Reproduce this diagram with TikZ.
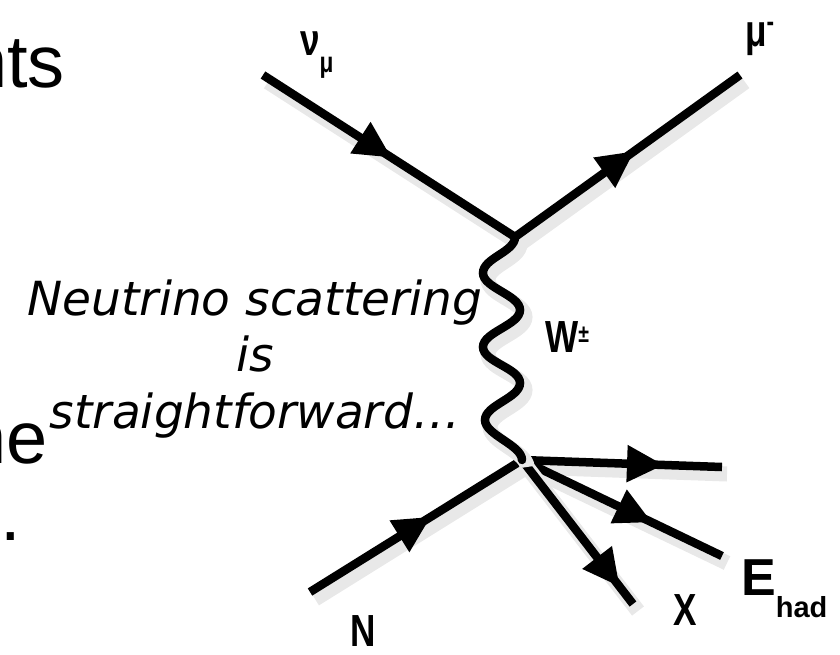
\documentclass[tikz,border=0pt]{standalone}
\usepackage{fontspec}
\setmainfont{DejaVu Sans}
\newfontfamily\slidefont{Liberation Sans}
\newfontfamily\lblfont[FakeStretch=0.78]{Liberation Sans}
\usepackage{tikz}
\usetikzlibrary{arrows.meta,decorations.markings}

\tikzset{
  shadowed/.style={preaction={draw=black!9,line width=15pt,transform canvas={shift={(5pt,-7pt)}}}},
  fermion/.style={line width=8.5pt,shadowed,
    postaction={decorate,decoration={markings,
      mark=at position #1 with {\arrow{Triangle[length=37pt,width=35pt]}}}}},
  fermion/.default=0.5,
  boson/.style={line width=8.5pt,line cap=round,shadowed},
  lbl/.style={font=\lblfont\bfseries\fontsize{45}{45}\selectfont,inner sep=0pt,anchor=base west},
  slide/.style={font=\slidefont\fontsize{74}{74}\selectfont,inner sep=0pt},
  note/.style={font=\itshape\fontsize{47}{56.5}\selectfont,inner sep=0pt,align=center}
}

\begin{document}
\begin{tikzpicture}[x=1pt,y=-1pt]
\useasboundingbox (0,0) rectangle (840,654);
% slide text cut off on the left
\node[slide,anchor=base east] (nts) at (65,87) {nts};
\node[slide,anchor=base east] (he) at (48,463) {he};
\node[slide,anchor=base west] (dot) at (0,540) {.};
% vertices and free ends
\coordinate (vt) at (515,237);
\coordinate (vb) at (522,460);
\coordinate (nuin) at (263,75);
\coordinate (muout) at (740,75);
\coordinate (nin) at (310,592);
\coordinate (had1) at (722,467);
\coordinate (had2) at (722,556);
\coordinate (had3) at (633,604);
% lines
\draw[fermion=0.51] (nuin) -- (vt);
\draw[fermion=0.53] (vt) -- (muout);
\draw[fermion=0.57] (nin) -- (vb);
\draw[fermion=0.71] (vb) -- (had1);
\draw[fermion=0.65] (vb) -- (had2);
\draw[fermion=0.88] (vb) -- (had3);
\draw[boson] (vt) .. controls +(0,15) and +(0,-15) .. ++(-32,36)
  .. controls +(0,15) and +(0,-15) .. ++(37,37)
  .. controls +(0,15) and +(0,-15) .. ++(-37,37)
  .. controls +(0,15) and +(0,-15) .. ++(37,36)
  .. controls +(0,15) and +(0,-15) .. ++(-35,37)
  .. controls +(0,15) and +(0,-15) .. (vb);
% labels
\node[lbl] (nulbl) at (300,55) {ν\raisebox{-17pt}{\fontsize{29}{29}\selectfont μ}};
\node[lbl] (mulbl) at (745,46) {μ\raisebox{15pt}{\fontsize{29}{29}\selectfont -}};
\node[lbl] (wlbl) at (545,352) {W\raisebox{10pt}{\fontsize{25}{25}\selectfont ±}};
\node[lbl] (xlbl) at (673,625) {X};
\node[lbl] (nlbl) at (350,646) {N};
\node[inner sep=0pt,anchor=base west,font=\slidefont\bfseries] (ehad) at (741,595)
  {\fontsize{52}{52}\selectfont E\raisebox{-22pt}{\fontsize{29}{29}\selectfont had}};
\node[note,anchor=base] (txt) at (255,428) {Neutrino scattering\\is\\straightforward…};
\end{tikzpicture}
\end{document}
